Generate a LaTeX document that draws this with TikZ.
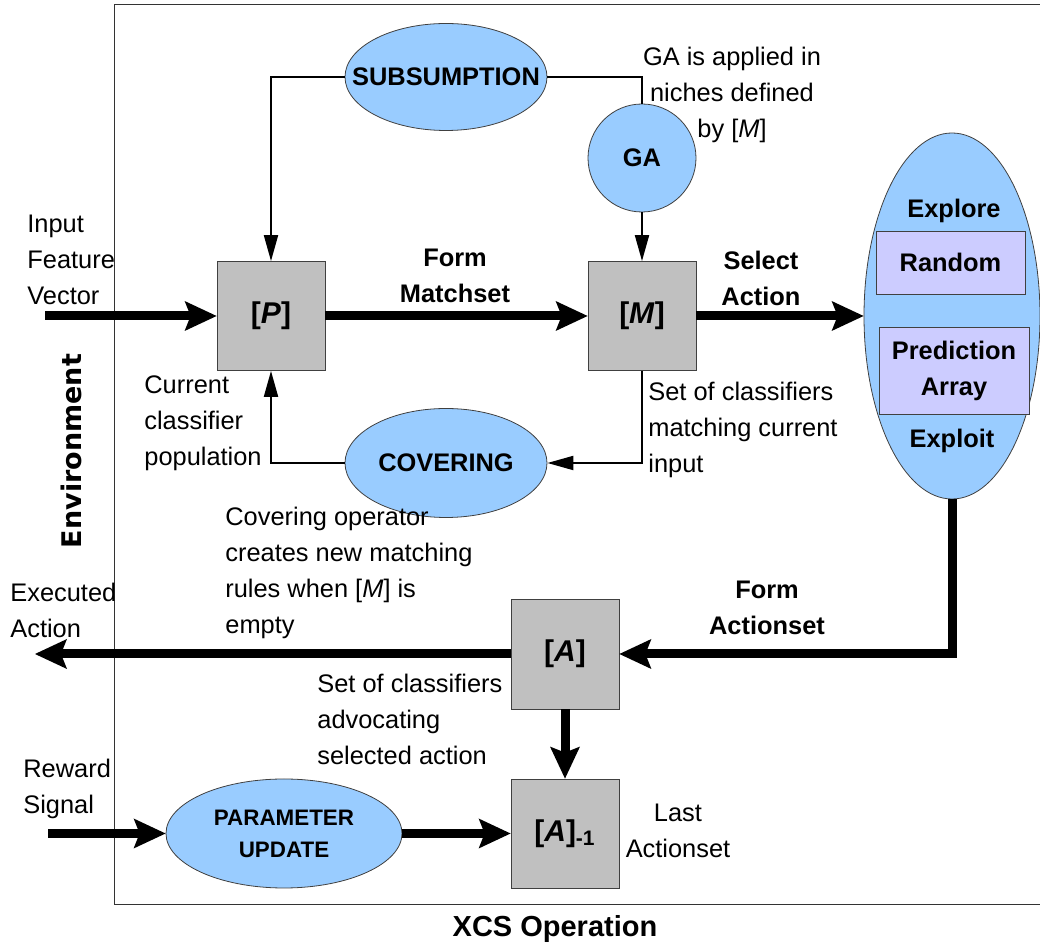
\documentclass[tikz,border=0pt]{standalone}
\usepackage{fontspec}
\setmainfont{Liberation Sans}
\newfontfamily\envfont{DejaVu Sans}
\usetikzlibrary{shapes.geometric,arrows.meta}
\definecolor{opblue}{HTML}{99CCFF}
\definecolor{setgray}{HTML}{C0C0C0}
\definecolor{lavender}{HTML}{CCCCFF}
\begin{document}
\begin{tikzpicture}[
  x=0.5pt, y=-0.5pt,
  font=\fontsize{12.7}{18}\selectfont,
  setbox/.style={rectangle, draw=black!75, fill=setgray, minimum width=54pt, minimum height=54.5pt, inner sep=0pt, font=\fontsize{15}{18}\selectfont\bfseries},
  oper/.style={ellipse, draw=black!75, fill=opblue, inner sep=0pt, align=center, font=\fontsize{12.7}{15}\selectfont\bfseries},
  subbox/.style={rectangle, draw=black!75, fill=lavender, inner sep=0pt, align=center, font=\fontsize{12.7}{18}\selectfont\bfseries},
  note/.style={inner sep=0pt, align=left},
  head/.style={inner sep=0pt, align=center, font=\fontsize{12.7}{18}\selectfont\bfseries},
  bigflow/.style={line width=4.5pt, -{Stealth[length=16pt,width=15pt,inset=3pt,line width=0pt]}},
  flow/.style={line width=1pt, -{Triangle[length=13pt,width=7pt]}}
]
\useasboundingbox (0,0) rectangle (1040,945);

% Frame
\draw[line width=0.5pt, black!80] (1040,5) -- (114,5) -- (114,905) -- (1040,905);
\node[font=\fontsize{14.5}{18}\selectfont\bfseries, anchor=base, inner sep=0pt] (xcs) at (555,937) {XCS Operation};
\node[font=\envfont\fontsize{13.5}{16}\selectfont\bfseries, rotate=90, inner sep=0pt] (env) at (71,451) {Environment};

% Sets
\node[setbox] (P) at (271,316) {[\textit{P}]};
\node[setbox] (M) at (642,316) {[\textit{M}]};
\node[setbox, minimum height=55pt] (A) at (565,654) {[\textit{A}]};
\node[setbox, minimum height=54.5pt] (Alast) at (565,833.5) {[\textit{A}]\textsubscript{-1}};

% Operators
\node[oper, minimum width=101pt, minimum height=53.5pt, inner xsep=-12pt] (subs) at (446,77) {SUBSUMPTION};
\node[oper, minimum width=101pt, minimum height=54.5pt] (cov) at (446,463) {COVERING};
\node[oper, circle, minimum size=54pt] (ga) at (642,158) {GA};
\node[oper, minimum width=118pt, minimum height=54.5pt, font=\fontsize{11.2}{16}\selectfont\bfseries] (param) at (284,833.5) {PARAMETER\\UPDATE};
\node[oper, minimum width=88pt, minimum height=183pt] (explore) at (952,316) {};
\node[subbox, minimum width=74.5pt, minimum height=31.5pt] (random) at (950.5,262.5) {Random};
\node[subbox, minimum width=75pt, minimum height=43.5pt] (predarr) at (954,370.5) {Prediction\\Array};
\node[head, anchor=base] (explbl) at (954,218) {Explore};
\node[head, anchor=base] (exploitlbl) at (952,448) {Exploit};

% Free ends
\coordinate (inStart) at (45,316);
\coordinate (exeEnd) at (35,654);
\coordinate (rewStart) at (48,833.5);

% Arrows
\draw[bigflow] (inStart) -- (P.west);
\draw[bigflow] (P.east) -- (M.west);
\draw[bigflow] (M.east) -- (explore.west);
\draw[bigflow] (explore.south) |- (A.east);
\draw[bigflow] (A.west) -- (exeEnd);
\draw[bigflow] (A.south) -- (Alast.north);
\draw[bigflow] (rewStart) -- (param.west);
\draw[bigflow] (param.east) -- (Alast.west);
\draw[flow] (subs.west) -| (P.north);
\draw[line width=1pt] (subs.east) -| (ga.north);
\draw[flow] (ga.south) -- (M.north);
\draw[flow] (M.south) |- (cov.east);
\draw[flow] (cov.west) -| (P.south);

% Labels
\node[head, anchor=north] (formM) at (455,249) {Form\\Matchset};
\node[head, anchor=north] (selA) at (761,251) {Select\\Action};
\node[head, anchor=north] (formA) at (767,581) {Form\\Actionset};
\node[note, anchor=north west] (inlbl) at (27,215) {Input\\Feature\\Vector};
\node[note, anchor=north west] (poplbl) at (144,375) {Current\\classifier\\population};
\node[note, anchor=north west] (covlbl) at (225,507) {Covering operator\\creates new matching\\rules when [\textit{M}] is\\empty};
\node[note, anchor=north, align=center] (galbl) at (732,47) {GA is applied in\\niches defined\\by [\textit{M}]};
\node[note, anchor=north west] (mlbl) at (648,382) {Set of classifiers\\matching current\\input};
\node[note, anchor=north west] (exelbl) at (10,583) {Executed\\Action};
\node[note, anchor=north west] (albl) at (317,674) {Set of classifiers\\advocating\\selected action};
\node[note, anchor=north west] (rewlbl) at (23,759) {Reward\\Signal};
\node[note, anchor=north, align=center] (lastlbl) at (678,804) {Last\\Actionset};

\end{tikzpicture}
\end{document}
